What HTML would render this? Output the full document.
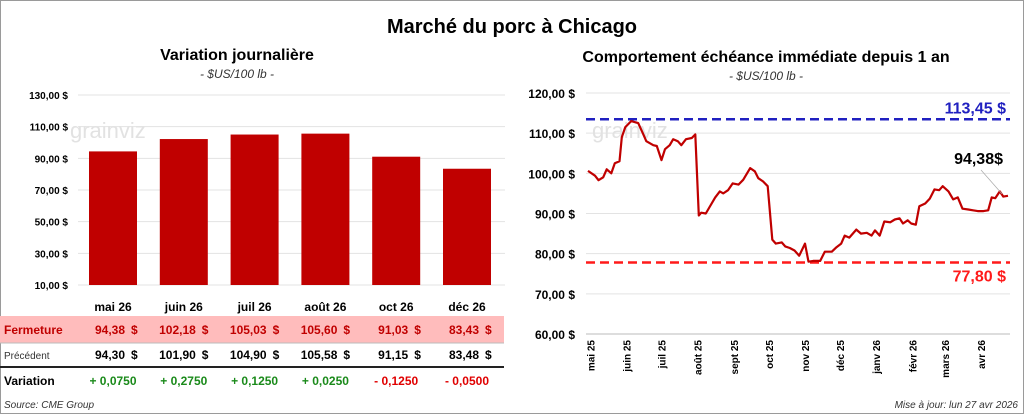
<!DOCTYPE html>
<html><head><meta charset="utf-8"><style>
body{margin:0;background:#fff;font-family:"Liberation Sans",sans-serif}
svg{display:block}
text{font-family:"Liberation Sans",sans-serif}
</style></head><body>
<svg id="s" width="1024" height="414">
<rect x="0.5" y="0.5" width="1023" height="413" fill="#fff" stroke="#9a9a9a"/>
<text x="512" y="33" text-anchor="middle" font-size="20" font-weight="bold">Marché du porc à Chicago</text>
<text x="237" y="60" text-anchor="middle" font-size="16" font-weight="bold">Variation journalière</text>
<text x="237" y="78" text-anchor="middle" font-size="12" font-style="italic" fill="#333">- $US/100 lb -</text>
<text x="766" y="62" text-anchor="middle" font-size="16" font-weight="bold">Comportement échéance immédiate depuis 1 an</text>
<text x="766" y="80" text-anchor="middle" font-size="12" font-style="italic" fill="#333">- $US/100 lb -</text>
<g id="L"></g><g id="R"></g>
<text x="4" y="408" font-size="10" font-style="italic" fill="#333">Source: CME Group</text>
<text x="1018" y="408" text-anchor="end" font-size="10" font-style="italic" fill="#333">Mise à jour: lun 27 avr 2026</text>
</svg>
<script>
const contracts=["mai 26","juin 26","juil 26","août 26","oct 26","déc 26"];
const closes=[94.38,102.18,105.03,105.60,91.03,83.43];
const previous=[94.30,101.90,104.90,105.58,91.15,83.48];
const variations=[0.0750,0.2750,0.1250,0.0250,-0.1250,-0.0500];
const leftTicks=[10,30,50,70,90,110,130];
const days=[0,6,9,13,16,20,23,27,29,32,37,43,47,50,56,59,63,66,70,73,77,80,84,89,92,95,97,101,104,109,113,116,120,124,129,133,139,143,146,150,154,158,161,166,169,173,177,181,186,189,193,199,203,209,213,217,220,224,230,234,239,243,246,250,254,259,263,267,270,274,277,281,284,289,293,297,301,304,309,313,317,321,326,330,334,339,343,346,349,353,356,360];
const prices=[100.6,99.4,98.3,99,101,100,102.5,103,109,111.5,113,112.5,110,108,107,106.8,103.3,106,107,108.5,108,107,108.5,108.8,109.7,89.5,90.2,90,91.5,94,95.5,95,95.8,97.5,97.2,98.4,101.3,100.5,98.8,98,96.8,83.5,82.5,82.8,81.8,81.4,80.8,79.5,82.5,78,78.2,78.2,80.5,80.5,81.6,82.5,84.5,84,86,85,85.2,84.5,85.8,84.5,88,87.8,88.5,88.8,87.5,88.3,87.5,87.2,91.8,92.5,93.7,96,95.8,96.8,95.5,93.5,94,91.2,91,90.8,90.6,90.6,90.8,94,93.8,95.5,94.2,94.4];
const rightTicks=[60,70,80,90,100,110,120];
const months=["mai 25","juin 25","juil 25","août 25","sept 25","oct 25","nov 25","déc 25","janv 26","févr 26","mars 26","avr 26"];
const monthDays=[2,33,63,94,125,155,186,216,247,278,306,337];
const high=113.45, low=77.80, last=94.38;
const NS="http://www.w3.org/2000/svg";
function mk(p,t,a,txt){const e=document.createElementNS(NS,t);for(const k in a)e.setAttribute(k,a[k]);if(txt!=null)e.textContent=txt;p.appendChild(e);return e;}
const fmt=v=>v.toFixed(2).replace('.',',');
const L=document.getElementById('L');
const ly=v=>285-(v-10)*190/120;
const colX=i=>113+i*70.8;
mk(L,'text',{x:70,y:138,'font-size':22,fill:'#e2e2e2'},'grainviz');
leftTicks.forEach(t=>{const g=mk(L,'line',{x1:78,x2:505,y1:ly(t),y2:ly(t),stroke:'#e3e3e3'});

const tx=mk(L,'text',{x:68,y:ly(t)+4,'text-anchor':'end','font-size':10,'font-weight':'bold'},fmt(t)+' $');
});
mk(L,'rect',{x:0,y:316,width:504,height:27,fill:'#ffbcbc'});
mk(L,'line',{x1:0,x2:504,y1:343,y2:343,stroke:'#bbb'});
mk(L,'line',{x1:0,x2:504,y1:367,y2:367,stroke:'#222','stroke-width':2});
const fl=mk(L,'text',{x:4,y:334,'font-size':12,'font-weight':'bold',fill:'#c00000'},'Fermeture');

const pl=mk(L,'text',{x:4,y:359,'font-size':10,fill:'#333'},'Précédent');

const vl=mk(L,'text',{x:4,y:385,'font-size':12,'font-weight':'bold'},'Variation');

contracts.forEach((c,i)=>{const cx=colX(i);
const b=mk(L,'rect',{x:cx-24,y:ly(closes[i]),width:48,height:285-ly(closes[i]),fill:'#c00000'});

const cl=mk(L,'text',{x:cx,y:311,'text-anchor':'middle','font-size':12,'font-weight':'bold'},c);

const a=mk(L,'text',{x:cx+12,y:334,'text-anchor':'end','font-size':12,'font-weight':'bold',fill:'#c00000'},fmt(closes[i]));

mk(L,'text',{x:cx+18,y:334,'font-size':12,'font-weight':'bold',fill:'#c00000'},'$');
const p=mk(L,'text',{x:cx+12,y:359,'text-anchor':'end','font-size':12,'font-weight':'bold'},fmt(previous[i]));

mk(L,'text',{x:cx+18,y:359,'font-size':12,'font-weight':'bold'},'$');
const d=variations[i];
const v=mk(L,'text',{x:cx,y:385,'text-anchor':'middle','font-size':12,'font-weight':'bold',fill:d>=0?'#1a8a1a':'#e00000'},(d>=0?'+ ':'- ')+Math.abs(d).toFixed(4).replace('.',','));
});
const R=document.getElementById('R');
const ry=v=>334-(v-60)*241/60;
const rx=d=>588+d*420/360;
mk(R,'text',{x:592,y:138,'font-size':22,fill:'#e2e2e2'},'grainviz');
rightTicks.forEach(t=>{const g=mk(R,'line',{x1:586,x2:1010,y1:ry(t),y2:ry(t),stroke:'#e3e3e3'});

const tx=mk(R,'text',{x:575,y:ry(t)+5,'text-anchor':'end','font-size':12,'font-weight':'bold'},fmt(t)+' $');
});
mk(R,'line',{x1:586,x2:1010,y1:334,y2:334,stroke:'#bbb'});
months.forEach((m,i)=>{const x=rx(monthDays[i]);
const t=mk(R,'text',{x:x+4,y:340,'text-anchor':'end','font-size':10,'font-weight':'bold',transform:`rotate(-90 ${x+4} 340)`},m);
});
const hl=mk(R,'line',{x1:586,x2:1010,y1:ry(high),y2:ry(high),stroke:'#2020c0','stroke-width':2.5,'stroke-dasharray':'9 5'});

const ll=mk(R,'line',{x1:586,x2:1010,y1:ry(low),y2:ry(low),stroke:'#ff1a1a','stroke-width':2.5,'stroke-dasharray':'9 5'});

const ht=mk(R,'text',{x:1006,y:ry(high)-6,'text-anchor':'end','font-size':16,'font-weight':'bold',fill:'#2020c0'},fmt(high)+' $');

const lt=mk(R,'text',{x:1006,y:ry(low)+19,'text-anchor':'end','font-size':16,'font-weight':'bold',fill:'#ff1a1a'},fmt(low)+' $');

const pts=days.map((d,i)=>rx(d).toFixed(1)+','+ry(prices[i]).toFixed(1)).join(' ');
const pl2=mk(R,'polyline',{points:pts,fill:'none',stroke:'#c00000','stroke-width':2.2,'stroke-linejoin':'round'});

mk(R,'line',{x1:981,y1:170,x2:1002,y2:ry(last)-2,stroke:'#aaa','stroke-width':0.7});
const la=mk(R,'text',{x:1003,y:164,'text-anchor':'end','font-size':16,'font-weight':'bold'},fmt(last)+'$');

</script>
</body></html>
